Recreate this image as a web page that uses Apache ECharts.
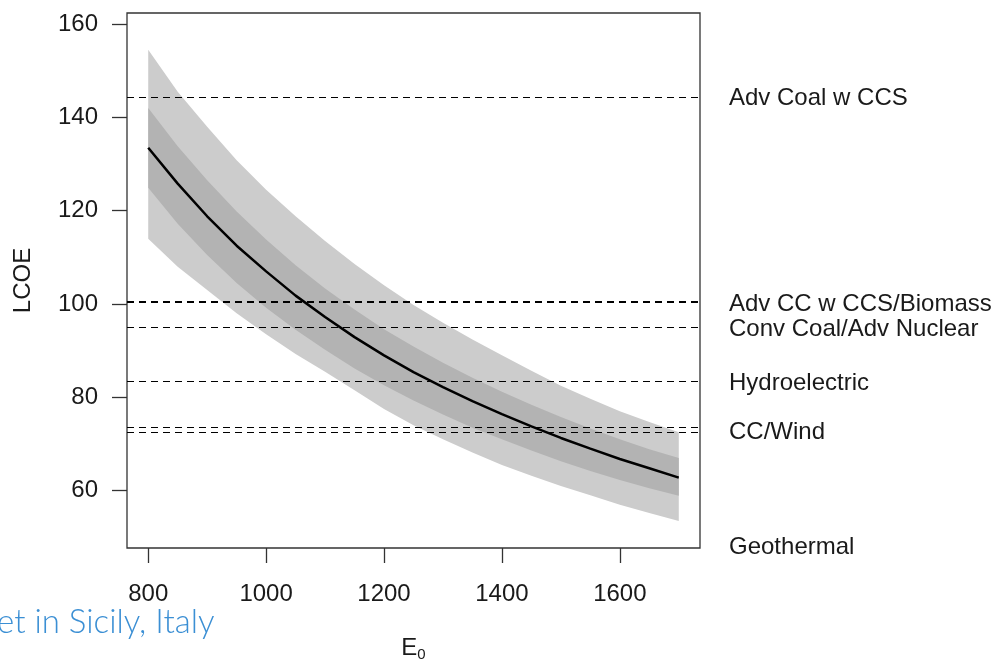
<!DOCTYPE html>
<html>
<head>
<meta charset="utf-8">
<script src="https://cdn.jsdelivr.net/npm/echarts@6/dist/echarts.min.js"></script>
<style>
  html, body { margin: 0; padding: 0; background: #fff; }
  #main { width: 1000px; height: 664px; }
</style>
</head>
<body>
<div id="main"></div>
<script>
// E0 grid of the curve and the bands
var e0 = [800, 850, 900, 950, 1000, 1050, 1100, 1150, 1200, 1250, 1300, 1350, 1400, 1450, 1500, 1550, 1600, 1650, 1700];
var lcoe = [133.5, 125.8, 118.8, 112.5, 107.0, 101.8, 97.2, 92.9, 89.0, 85.4, 82.2, 79.2, 76.4, 73.8, 71.3, 69.0, 66.8, 64.8, 62.8];
var innerTop = [142.0, 133.8, 126.5, 119.8, 113.8, 108.3, 103.3, 98.8, 94.6, 90.9, 87.4, 84.2, 81.2, 78.4, 75.8, 73.3, 71.0, 68.9, 67.0];
var innerBottom = [124.9, 117.2, 110.5, 104.5, 99.2, 94.5, 90.2, 86.2, 82.6, 79.3, 76.3, 73.5, 71.0, 68.6, 66.3, 64.2, 62.3, 60.5, 58.9];
var outerTop = [154.5, 145.5, 138.0, 130.8, 124.5, 118.8, 113.5, 108.6, 104.0, 99.8, 96.0, 92.4, 89.0, 85.7, 82.5, 79.7, 77.0, 74.7, 72.5];
var outerBottom = [114.0, 108.0, 103.0, 98.0, 93.5, 89.3, 85.5, 81.5, 77.5, 74.0, 71.0, 68.2, 65.5, 63.2, 61.0, 59.0, 57.0, 55.2, 53.5];

// reference technologies (dashed lines)
var refLevels = [144.4, 100.4, 95.1, 83.5, 73.5, 72.6];
var refWidths = [1, 2, 1, 1, 1, 1];

// labels on the right and where they sit
var techNames = ['Adv Coal w CCS', 'Adv CC w CCS/Biomass', 'Conv Coal/Adv Nuclear', 'Hydroelectric', 'CC/Wind', 'Geothermal'];
var techLabelAt = [144.1, 100.0, 94.6, 82.9, 72.6, 47.75];

var xTicks = [800, 1000, 1200, 1400, 1600];
var yTicks = [60, 80, 100, 120, 140, 160];

// bands drawn light, dark, light (dark sits inside the light one)
var bands = [
  { top: outerTop, bottom: outerBottom, color: '#cccccc' },
  { top: innerTop, bottom: innerBottom, color: '#b3b3b3' }
];

var txt = '#1a1a1a';
var font = 'Liberation Sans, Arial, sans-serif';

var chart = echarts.init(document.getElementById('main'));

var option = {
  animation: false,
  backgroundColor: '#fff',
  grid: {
    left: 127, right: 300, top: 13, bottom: 116,
    outerBoundsMode: 'none', containLabel: false,
    show: true, borderColor: '#333', borderWidth: 1.3, backgroundColor: 'transparent'
  },
  xAxis: {
    type: 'value', min: 764, max: 1736,
    name: 'E{s|0}', nameLocation: 'middle', nameGap: 87,
    nameTextStyle: {
      color: txt, fontSize: 24, fontFamily: font,
      rich: { s: { fontSize: 15, verticalAlign: 'bottom', padding: [12, 0, 0, 0], color: txt, fontFamily: font } }
    },
    axisLine: { show: false },
    splitLine: { show: false },
    axisTick: { show: true, length: 15, lineStyle: { color: '#333', width: 1.3 }, customValues: xTicks },
    axisLabel: {
      color: txt, fontSize: 24, fontFamily: font, margin: 34, customValues: xTicks,
      formatter: function (v) { return String(v); }
    }
  },
  yAxis: [{
    type: 'value', min: 47.72, max: 162.36,
    name: 'LCOE', nameLocation: 'middle', nameGap: 92,
    nameTextStyle: { color: txt, fontSize: 24, fontFamily: font },
    axisLine: { show: false },
    splitLine: { show: false },
    axisTick: { show: true, length: 15, lineStyle: { color: '#333', width: 1.3 }, customValues: yTicks },
    axisLabel: {
      color: txt, fontSize: 24, fontFamily: font, margin: 29, customValues: yTicks,
      formatter: function (v) { return String(v); }
    }
  }, {
    type: 'value', min: 47.72, max: 162.36, position: 'right',
    axisLine: { show: false },
    splitLine: { show: false },
    axisTick: { show: false },
    axisLabel: {
      color: txt, fontSize: 24, fontFamily: font, margin: 29, align: 'left',
      customValues: techLabelAt, showMinLabel: true, showMaxLabel: true,
      formatter: function (v) {
        var i = techLabelAt.indexOf(v);
        return i >= 0 ? techNames[i] : '';
      }
    }
  }],
  graphic: [{
    type: 'text', left: -3, top: 606,
    style: { text: 'et in Sicily, Italy', fill: '#3b8fd4', font: '300 33px Lato, sans-serif' }
  }],
  series: [
    {
      type: 'custom', silent: true, z: 1,
      data: bands.map(function (b, i) { return [i]; }),
      renderItem: function (params, api) {
        var b = bands[api.value(0)];
        var pts = [];
        for (var i = 0; i < e0.length; i++) pts.push(api.coord([e0[i], b.top[i]]));
        for (var j = e0.length - 1; j >= 0; j--) pts.push(api.coord([e0[j], b.bottom[j]]));
        return { type: 'polygon', shape: { points: pts }, style: { fill: b.color } };
      }
    },
    {
      type: 'line', data: e0.map(function (x, i) { return [x, lcoe[i]]; }),
      showSymbol: false, silent: true,
      lineStyle: { color: '#000', width: 2.5 }, z: 3,
      markLine: {
        silent: true, symbol: 'none', label: { show: false },
        data: refLevels.map(function (v, i) {
          return { yAxis: v, lineStyle: { color: '#000', width: refWidths[i], type: [7, 5] } };
        })
      }
    }
  ]
};

chart.setOption(option);
</script>
</body>
</html>
